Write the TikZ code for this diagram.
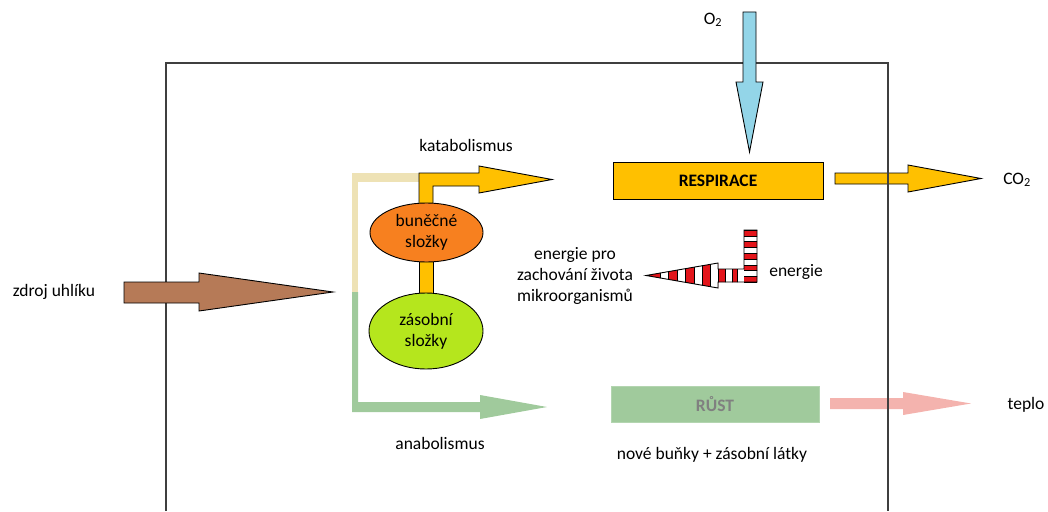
\documentclass[tikz,border=0pt]{standalone}
\usepackage{fontspec}
\setmainfont{Carlito}
\usetikzlibrary{shapes.geometric}
\definecolor{framecol}{HTML}{3F3F3F}
\definecolor{gold}{HTML}{FFC000}
\definecolor{orangecell}{HTML}{F7801F}
\definecolor{limecell}{HTML}{B5E61D}
\definecolor{brownsrc}{HTML}{B67A57}
\definecolor{oxyblue}{HTML}{93D5E8}
\definecolor{beige}{HTML}{EEE2B5}
\definecolor{anagreen}{HTML}{A0CA9C}
\definecolor{heatpink}{HTML}{F4B3AE}
\definecolor{stripered}{HTML}{E3151B}
\begin{document}
\begin{tikzpicture}[x=1pt,y=-1pt,
  lbl/.style={font=\fontsize{17.5}{21}\selectfont, inner sep=0pt, align=center},
  blockarrow/.style={draw=black, line width=0.9pt, line join=miter},
  cell/.style={ellipse, draw=black, line width=0.9pt, inner sep=0pt,
               font=\fontsize{17.5}{21}\selectfont, align=center},
  procbox/.style={rectangle, inner sep=0pt, font=\fontsize{17.5}{21}\selectfont\bfseries}]
\useasboundingbox (0,0) rectangle (1048,511);

% arrows leaving the cell (frame passes over them)
\fill[blockarrow, fill=gold] (835,173)--(908,173)--(908,165)--(981,178.5)--(908,192)--(908,184)--(835,184)--cycle;
\fill[heatpink] (830,398)--(903,398)--(903,392)--(971,403.5)--(903,415)--(903,409)--(830,409)--cycle;

% cell boundary
\draw[framecol, line width=1.5pt] (166,511)--(166,63)--(888,63)--(888,511);

% carbon source and oxygen entering
\filldraw[blockarrow, fill=brownsrc] (124,282)--(199,282)--(199,273)--(333,292)--(199,311)--(199,303)--(124,303)--cycle;
\filldraw[blockarrow, fill=oxyblue] (743,12)--(756,12)--(756,82)--(763,82)--(749.5,152)--(736,82)--(743,82)--cycle;

% metabolic routes
\fill[beige] (352,173) rectangle (358,292);
\fill[beige] (352,173) rectangle (425,182);
\fill[anagreen] (352,292)--(358,292)--(358,402)--(480,402)--(480,395)--(547,407)--(480,419)--(480,412)--(352,412)--cycle;
\filldraw[blockarrow, fill=gold] (419,215)--(419,173)--(479,173)--(479,166)--(552,179.5)--(479,193)--(479,186)--(433,186)--(433,215)--cycle;
\filldraw[blockarrow, fill=gold] (419,255) rectangle (433,300);

% cell components
\node[cell, fill=orangecell, minimum width=113pt, minimum height=59pt] (bunecne) at (426.5,232.5) {buněčné\\složky};
\node[cell, fill=limecell, minimum width=114pt, minimum height=76pt] (zasobni) at (426,331) {zásobní\\složky};

% processes
\node[procbox, draw=black, line width=0.9pt, fill=gold, minimum width=210pt, minimum height=37pt] (resp) at (718,180.5) {RESPIRACE};
\node[procbox, draw=anagreen!80!white, line width=0.8pt, fill=anagreen, text=black!50, minimum width=208pt, minimum height=36pt] (rust) at (715,404) {RŮST};

% striped energy arrow
\begin{scope}
  \clip (718,282)--(718,288)--(646,275.5)--(718,263)--(718,269)--(744,269)--(744,282)--cycle;
  \foreach \a/\b in {646/660,668/677,685/694,702/710,718/725,732/737}
    \filldraw[fill=stripered, draw=black, line width=0.4pt] (\a,250) rectangle (\b,300);
  \foreach \a/\b in {660/668,677/685,694/702,710/718,725/732,737/744}
    \draw[black, line width=0.4pt] (\a,250) rectangle (\b,300);
\end{scope}
\begin{scope}
  \clip (744,230) rectangle (757,282);
  \foreach \a/\b in {230/235.8,241.6/247.4,253.2/259,264.8/270.6,276.4/282.2}
    \filldraw[fill=stripered, draw=black, line width=0.4pt] (740,\a) rectangle (760,\b);
\end{scope}
\draw[blockarrow] (744,230)--(757,230)--(757,282)--(718,282)--(718,288)--(646,275.5)--(718,263)--(718,269)--(744,269)--cycle;

% labels
\node[lbl] (o2) at (713,20) {O\textsubscript{2}};
\node[lbl] (co2) at (1017,180) {CO\textsubscript{2}};
\node[lbl] (zdroj) at (54,292) {zdroj uhlíku};
\node[lbl] (kata) at (466,145) {katabolismus};
\node[lbl] (ana) at (440,443) {anabolismus};
\node[lbl] (udrz) at (575,276) {energie pro\\zachování života\\mikroorganismů};
\node[lbl] (energie) at (796,272) {energie};
\node[lbl] (nove) at (712,455) {nové buňky + zásobní látky};
\node[lbl] (teplo) at (1026,405) {teplo};
\end{tikzpicture}
\end{document}
